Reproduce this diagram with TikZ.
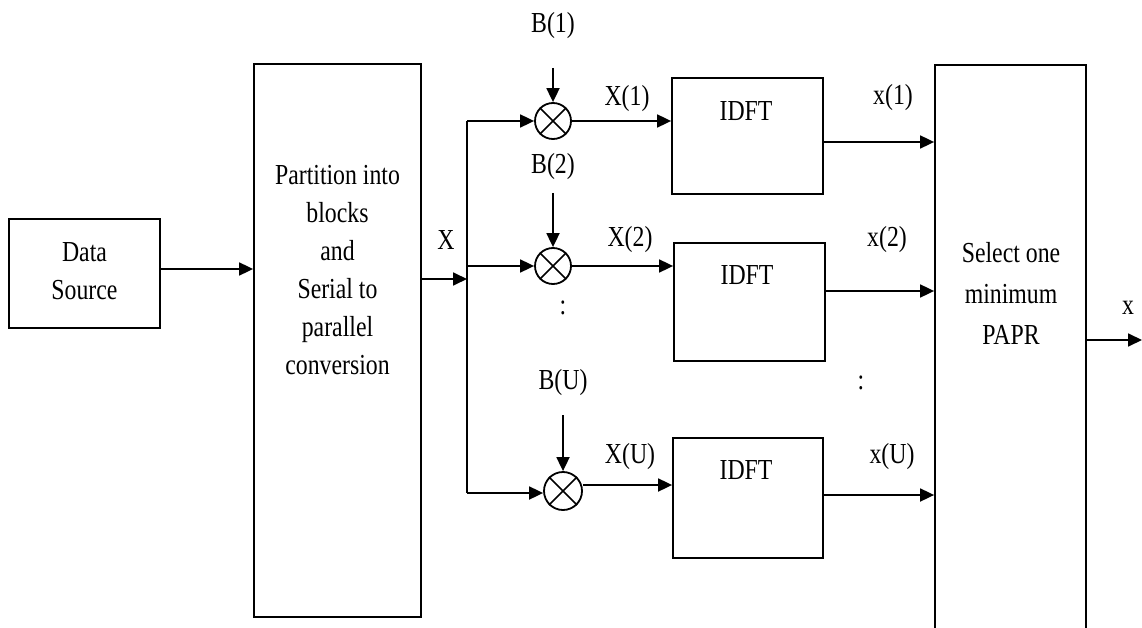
\documentclass[tikz,border=0pt]{standalone}
\usepackage{fontspec}
\setmainfont{Liberation Serif}[FakeStretch=0.82]
\usetikzlibrary{arrows.meta}
\begin{document}
\begin{tikzpicture}[x=1pt,y=-1pt,
  box/.style={draw, line width=1.8pt, inner sep=0pt},
  ln/.style={line width=1.8pt},
  arr/.style={line width=1.8pt, -{Triangle[length=14pt,width=13pt]}},
  mul/.style={draw, circle, line width=1.8pt, minimum size=36pt, inner sep=0pt},
  lbl/.style={font=\fontsize{29}{38}\selectfont, align=center, inner sep=0pt}]
\path[use as bounding box] (0,0) rectangle (1142,628);

% main blocks
\node[box, minimum width=151pt, minimum height=109pt] (ds) at (84.5,273.5) {};
\node[lbl] (dst) at (84.5,271) {Data\\Source};
\node[box, minimum width=167pt, minimum height=553pt] (part) at (337.5,340.5) {};
\node[lbl] (partt) at (337.5,270) {Partition into\\blocks\\and\\Serial to\\parallel\\conversion};
\node[box, minimum width=151pt, minimum height=620pt, anchor=north] (sel) at (1010.5,64) {};
\node[lbl, font=\fontsize{29}{41}\selectfont] (selt) at (1011,293) {Select one\\minimum\\PAPR};

% IDFT blocks
\node[box, minimum width=151pt, minimum height=116pt] (i1) at (747.5,136) {};
\node[lbl] (i1t) at (746,111) {IDFT};
\node[box, minimum width=151pt, minimum height=118pt] (i2) at (749.5,302) {};
\node[lbl] (i2t) at (747,275) {IDFT};
\node[box, minimum width=150pt, minimum height=120pt] (i3) at (748,498) {};
\node[lbl] (i3t) at (746,470) {IDFT};

% multipliers
\node[mul] (m1) at (553,121) {};
\node[mul] (m2) at (553,266) {};
\node[mul, minimum size=38pt] (mu) at (563,491) {};
\foreach \m in {m1,m2,mu}{
  \draw[line width=1.5pt] (\m.45) -- (\m.225) (\m.135) -- (\m.315);
}

% labels
\node[lbl] (b1) at (553,26) {B(1)};
\node[lbl] (b2) at (553,167) {B(2)};
\node[lbl] (bu) at (563,383) {B(U)};
\node[lbl] (X) at (446,240) {X};
\node[lbl] (X1) at (627,99) {X(1)};
\node[lbl] (X2) at (630,240) {X(2)};
\node[lbl] (XU) at (630,457) {X(U)};
\node[lbl] (x1) at (893,98) {x(1)};
\node[lbl] (x2) at (887,240) {x(2)};
\node[lbl] (xu) at (892,457) {x(U)};
\node[lbl] (xo) at (1128,308) {x};
\node[lbl] (d1) at (563,308) {:};
\node[lbl] (d2) at (861,383) {:};

% bus
\coordinate (bt) at (467,121);
\coordinate (bb) at (467,493);
\draw[ln] (bt) -- (bb);
\draw[arr] (ds.east |- 0,269) -- (part.west |- 0,269);
\draw[arr] (part.east |- 0,279) -- (bt |- 0,279);
\draw[arr] (bt) -- (m1.west);
\draw[arr] (bt |- m2.west) -- (m2.west);
\draw[arr] (bb) -- (mu.west |- bb);

% B inputs
\draw[arr] (m1.north |- 0,68) -- (m1.north);
\draw[arr] (m2.north |- 0,193) -- (m2.north);
\draw[arr] (mu.north |- 0,415) -- (mu.north);

% to IDFT
\draw[arr] (m1.east) -- (i1.west |- m1.east);
\draw[arr] (m2.east) -- (i2.west |- m2.east);
\draw[arr] (mu.east |- 0,485) -- (i3.west |- 0,485);

% IDFT outputs
\draw[arr] (i1.east |- 0,142) -- (sel.west |- 0,142);
\draw[arr] (i2.east |- 0,291) -- (sel.west |- 0,291);
\draw[arr] (i3.east |- 0,495) -- (sel.west |- 0,495);

% final output
\coordinate (out) at (1142,340);
\draw[arr] (sel.east |- out) -- (out);
\end{tikzpicture}
\end{document}
